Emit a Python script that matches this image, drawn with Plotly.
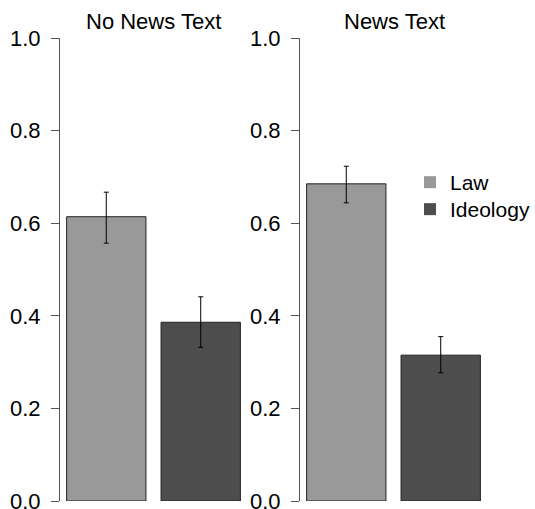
import plotly.graph_objects as go

# Share of responses attributed to each motive, with 95% intervals
categories = ["Law", "Ideology"]
panel_titles = ["No News Text", "News Text"]

no_news_mean = [0.614, 0.386]
no_news_lower = [0.557, 0.332]
no_news_upper = [0.667, 0.441]

news_mean = [0.685, 0.315]
news_lower = [0.644, 0.277]
news_upper = [0.723, 0.355]

y_ticks = [0.0, 0.2, 0.4, 0.6, 0.8, 1.0]

bar_colors = ["#999999", "#4d4d4d"]
FONT = "Liberation Sans, Arial, Helvetica, sans-serif"
W, H = 535, 509

fig = go.Figure()

panels = [
    (no_news_mean, no_news_lower, no_news_upper, "x", "y"),
    (news_mean, news_lower, news_upper, "x2", "y2"),
]
for mean, lo, hi, xa, ya in panels:
    fig.add_trace(go.Bar(
        x=categories, y=mean, xaxis=xa, yaxis=ya, showlegend=False,
        marker=dict(color=bar_colors, line=dict(color="#222222", width=1)),
        error_y=dict(type="data", symmetric=False,
                     array=[h - m for h, m in zip(hi, mean)],
                     arrayminus=[m - l for m, l in zip(mean, lo)],
                     color="#000000", thickness=1, width=2.5),
    ))

# legend entries: plain filled squares, one legend box per entry
legend_ids = ["legend", "legend2"]
for name, col, lg in zip(categories, bar_colors, legend_ids):
    fig.add_trace(go.Scatter(
        x=[None], y=[None], mode="markers", name=name, xaxis="x2", yaxis="y2",
        legend=lg,
        marker=dict(symbol="square", size=12, color=col, line=dict(width=0)),
    ))

y_dom = [8 / H, (H - 38) / H]
yaxis_style = dict(
    range=[0, 1], domain=y_dom, tickvals=y_ticks,
    ticktext=[f"{v:.1f}" for v in y_ticks],
    showline=True, linecolor="#555555", linewidth=1,
    ticks="outside", ticklen=8, tickcolor="#555555", tickwidth=1,
    showgrid=False, zeroline=False, ticklabelstandoff=6,
    ticklabeloverflow="allow",
    tickfont=dict(size=22, color="#000000", family=FONT),
    automargin=False, fixedrange=True,
)
xaxis_style = dict(
    range=[-0.49, 1.49], showticklabels=False, showline=False,
    showgrid=False, zeroline=False, ticks="", automargin=False,
    fixedrange=True,
)

legend_style = dict(xanchor="left", yanchor="top", bgcolor="rgba(0,0,0,0)",
                    font=dict(size=21, family=FONT), itemwidth=30)

fig.update_layout(
    width=W, height=H,
    margin=dict(l=0, r=0, t=0, b=0),
    paper_bgcolor="white", plot_bgcolor="white",
    font=dict(family=FONT, size=22, color="#000000"),
    bargap=0.16,
    xaxis=dict(domain=[60 / W, 247 / W], anchor="y", **xaxis_style),
    yaxis=dict(anchor="x", **yaxis_style),
    xaxis2=dict(domain=[300 / W, 487 / W], anchor="y2", **xaxis_style),
    yaxis2=dict(anchor="x2", **yaxis_style),
    legend=dict(x=410 / W, y=(H - 162) / H, **legend_style),
    legend2=dict(x=410 / W, y=(H - 189) / H, **legend_style),
    showlegend=True,
    annotations=[
        dict(text=panel_titles[0], x=153 / W, y=(H - 21) / H, xref="paper",
             yref="paper", showarrow=False, xanchor="center", yanchor="middle",
             font=dict(size=22)),
        dict(text=panel_titles[1], x=394 / W, y=(H - 21) / H, xref="paper",
             yref="paper", showarrow=False, xanchor="center", yanchor="middle",
             font=dict(size=22)),
    ],
)

fig.write_html("out.html")
